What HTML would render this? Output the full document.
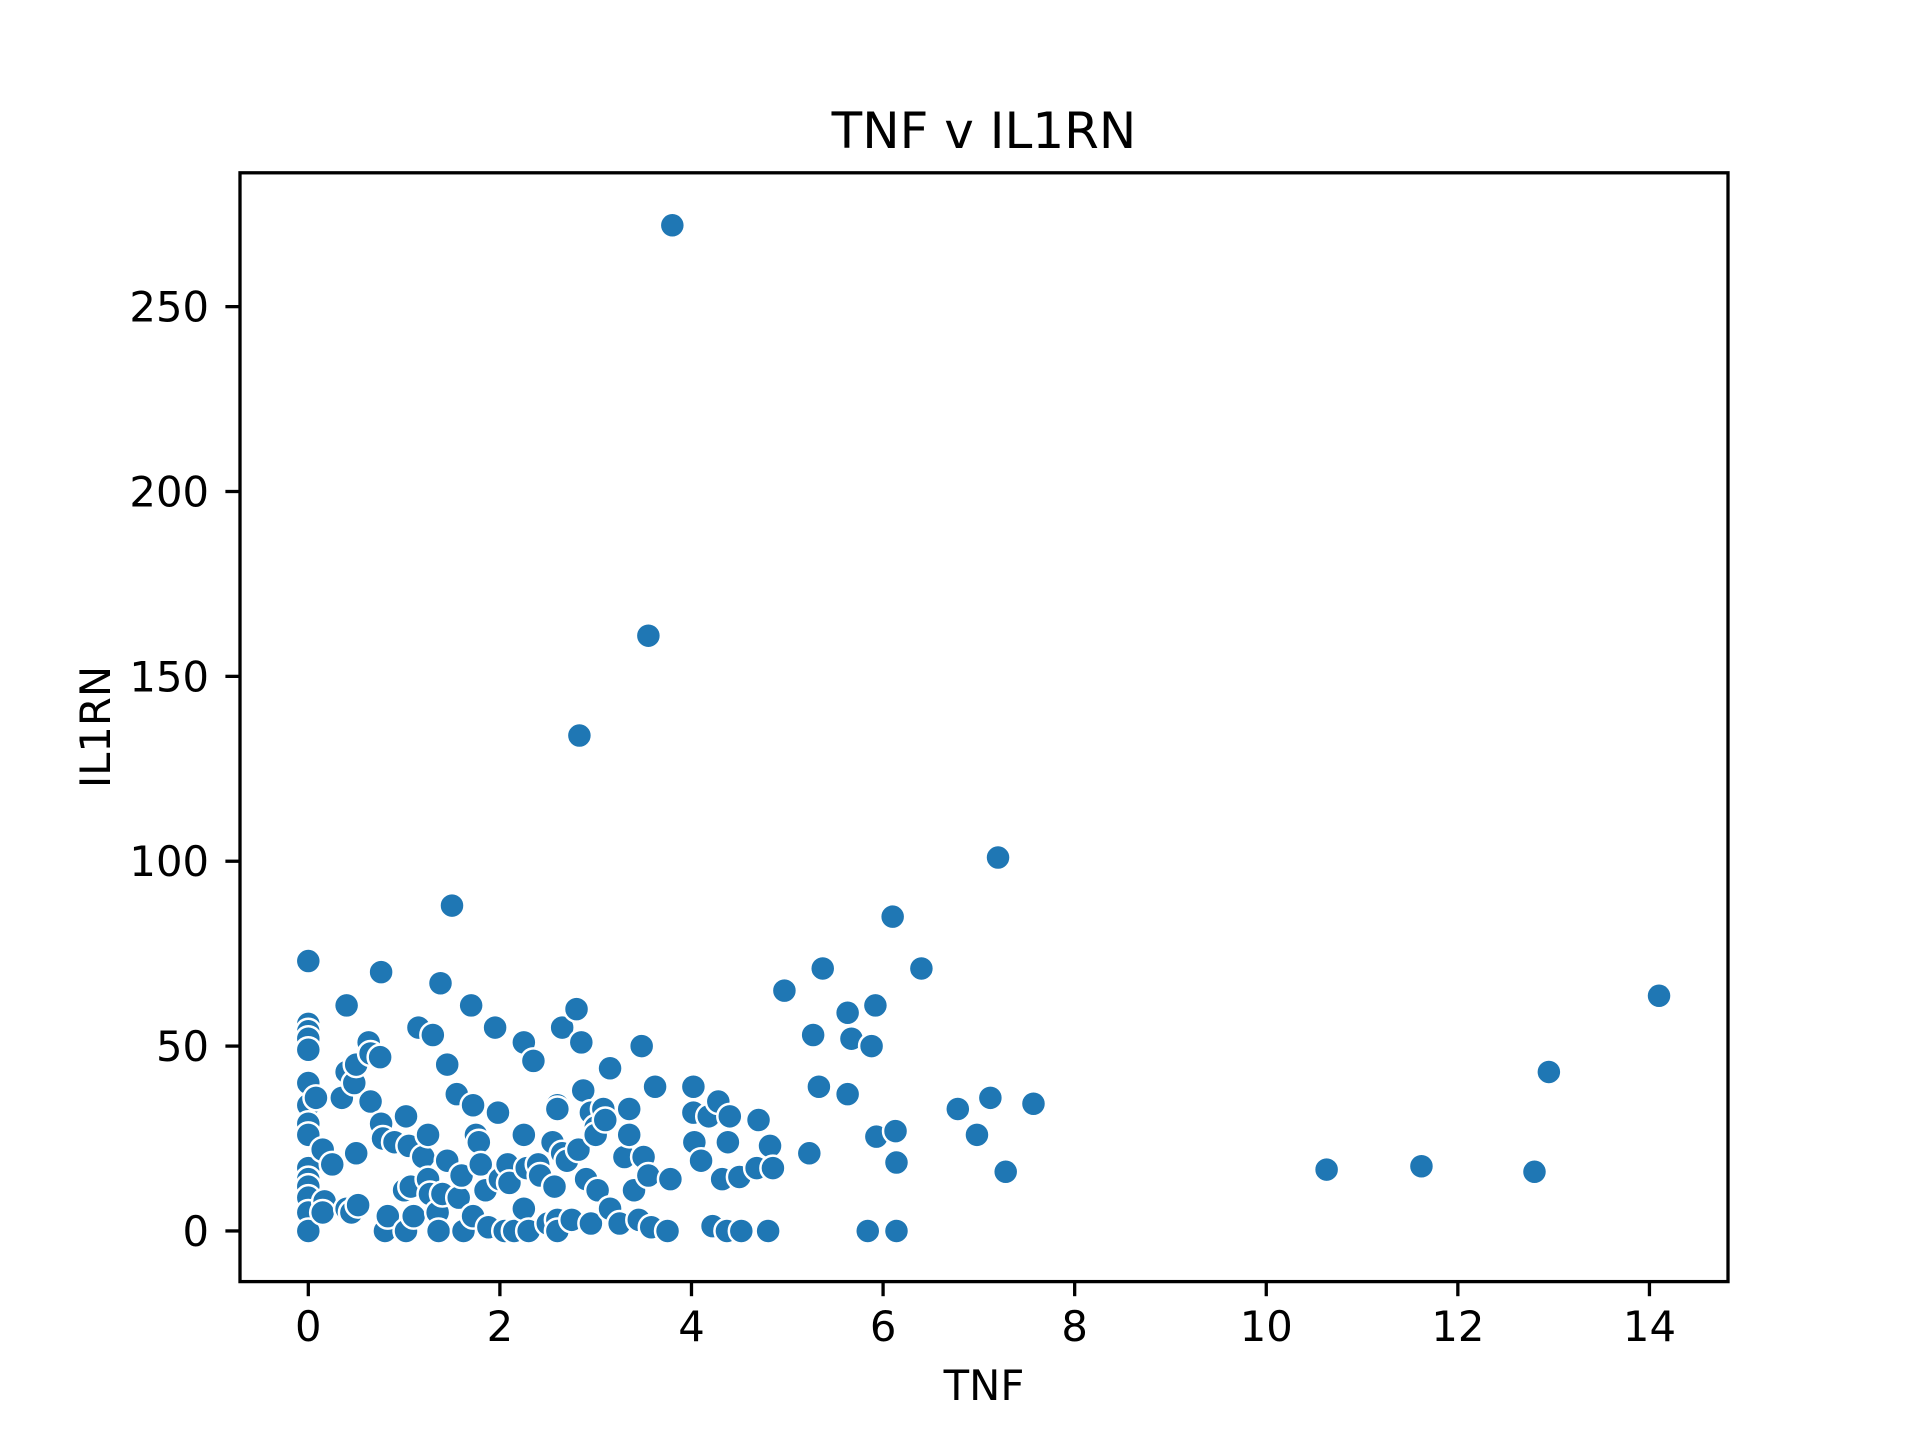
<!DOCTYPE html>
<html><head><meta charset="utf-8">
<style>
html,body{margin:0;padding:0;background:#fff;}
svg{display:block;font-family:"DejaVu Sans","Liberation Sans",sans-serif;}
</style></head>
<body>
<svg id="chart" width="1920" height="1440" viewBox="0 0 1920 1440" xmlns="http://www.w3.org/2000/svg">
<rect x="0" y="0" width="1920" height="1440" fill="#fff"/>
<text x="984" y="148" font-size="50" text-anchor="middle">TNF v IL1RN</text>
<g id="points"></g>
<rect x="240" y="172.8" width="1488" height="1108.8" fill="none" stroke="#000" stroke-width="3.3"/>
<g id="xticks"></g>
<g id="yticks"></g>
<text x="984" y="1400" font-size="41.7" text-anchor="middle">TNF</text>
<text x="110" y="727" font-size="41.7" text-anchor="middle" transform="rotate(-90 110 727)">IL1RN</text>
</svg>
<script>
const tnfValues = [0,0,0,0,0,0,0,0,0,0,0,0,0,0,0,
0.08,0.15,0.17,0.15,0.25,0.35,0.4,0.4,0.4,0.45,0.48,0.5,0.5,0.52,0.63,0.65,0.65,0.75,0.76,0.76,0.78,0.8,0.83,0.9,1.0,1.02,1.02,1.05,1.07,1.1,1.15,1.2,1.25,1.25,1.27,1.3,1.35,1.36,1.38,1.4,1.45,1.45,1.5,1.55,1.57,1.6,1.62,1.7,1.72,1.72,1.75,1.78,1.8,1.85,1.88,1.95,1.98,2.0,2.05,2.08,2.1,2.15,2.25,2.25,2.25,2.28,2.3,2.35,2.4,2.42,2.5,2.55,2.57,2.6,2.6,2.6,2.6,2.65,2.65,2.7,2.75,2.8,2.83,2.82,2.85,2.87,2.9,2.95,2.95,3.0,3.0,3.02,3.08,3.1,3.15,3.15,3.25,3.3,3.35,3.35,3.4,3.45,3.48,3.5,3.55,3.55,3.58,3.62,3.75,3.8,3.78,
4.02,4.02,4.03,4.1,4.18,4.22,4.28,4.32,4.37,4.38,4.4,4.5,4.52,4.68,4.7,4.8,4.82,4.85,4.97,5.23,5.27,5.33,5.37,5.63,5.63,5.67,5.84,5.88,5.92,5.93,6.1,6.13,6.14,6.14,6.4,6.78,6.98,7.12,7.2,7.28,7.57,10.63,11.62,12.8,12.95,14.1];
const il1rnValues = [73,56,54,52,49,40,34,29,26,17,14,12,9,5,0,
36,22,8,5,18,36,43,61,6,5,40,45,21,7,51,48,35,47,70,29,25,0,4,24,11,31,0,23,12,4,55,20,26,14,10,53,5,0,67,10,45,19,88,37,9,15,0,61,34,4,26,24,18,11,1,55,32,14,0,18,13,0,51,26,6,17,0,46,18,15,2,24,12,34,33,3,0,55,21,19,3,60,134,22,51,38,14,2,32,28,26,11,33,30,44,6,2,20,26,33,11,3,50,20,161,15,1,39,0,272,14,
39,32,24,19,31,1.3,35,14,0,24,31,14.6,0,17,30,0,23,17,65,21,53,39,71,59,37,52,0,50,61,25.5,85,27,18.5,0,71,33,26,36,101,16,34.4,16.6,17.5,16,43,63.6];
const xTickValues = [0,2,4,6,8,10,12,14];
const yTickValues = [0,50,100,150,200,250];

const X0=240,X1=1728,Y0=1281.6,Y1=172.8;
const xMin=-0.713,xMax=14.82,yMin=-13.7,yMax=286.2;
function xScale(v){return X0+(v-xMin)/(xMax-xMin)*(X1-X0);}
function yScale(v){return Y0-(v-yMin)/(yMax-yMin)*(Y0-Y1);}
const NS="http://www.w3.org/2000/svg";
const pg=document.getElementById('points');
for(let i=0;i<tnfValues.length;i++){
  const c=document.createElementNS(NS,'circle');
  c.setAttribute('cx',xScale(tnfValues[i]));
  c.setAttribute('cy',yScale(il1rnValues[i]));
  c.setAttribute('r',12.5);
  c.setAttribute('fill','#1f77b4');
  c.setAttribute('stroke','#fff');
  c.setAttribute('stroke-width',2.5);
  
  
  pg.appendChild(c);
}
const xg=document.getElementById('xticks');
xTickValues.forEach(v=>{
  const x=xScale(v);
  const l=document.createElementNS(NS,'line');
  l.setAttribute('x1',x);l.setAttribute('x2',x);l.setAttribute('y1',Y0);l.setAttribute('y2',Y0+14.6);
  l.setAttribute('stroke','#000');l.setAttribute('stroke-width',3.3);
  
  
  xg.appendChild(l);
  const t=document.createElementNS(NS,'text');
  t.setAttribute('x',x);t.setAttribute('y',1341);t.setAttribute('font-size',41.7);t.setAttribute('text-anchor','middle');
  t.textContent=v;
  
  
  xg.appendChild(t);
});
const yg=document.getElementById('yticks');
yTickValues.forEach(v=>{
  const y=yScale(v);
  const l=document.createElementNS(NS,'line');
  l.setAttribute('x1',X0-14.6);l.setAttribute('x2',X0);l.setAttribute('y1',y);l.setAttribute('y2',y);
  l.setAttribute('stroke','#000');l.setAttribute('stroke-width',3.3);
  
  
  yg.appendChild(l);
  const t=document.createElementNS(NS,'text');
  t.setAttribute('x',209);t.setAttribute('y',y+15);t.setAttribute('font-size',41.7);t.setAttribute('text-anchor','end');
  t.textContent=v;
  
  
  yg.appendChild(t);
});
</script>
</body></html>
